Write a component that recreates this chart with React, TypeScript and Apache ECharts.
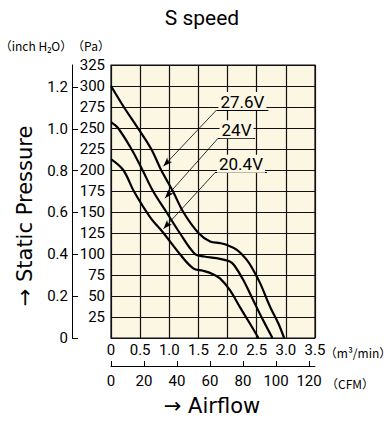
import React, { useEffect, useRef } from 'react';
import * as echarts from 'echarts';

// ---- data ----
const voltages = ['27.6V', '24V', '20.4V'];

// [airflow m³/min, static pressure Pa]
const curve276 = [
  [0, 300], [0.22, 275], [0.46, 250], [0.69, 225], [0.86, 200], [1.06, 175], [1.24, 150],
  [1.5, 125], [1.7, 115], [1.87, 113], [1.98, 111], [2.16, 105], [2.33, 93], [2.44, 81],
  [2.56, 65], [2.73, 37], [2.87, 17.5], [2.97, 0],
];
const curve24 = [
  [0, 257], [0.12, 250], [0.35, 225], [0.54, 200], [0.72, 175], [0.95, 150], [1.18, 125],
  [1.44, 100], [1.6, 97], [1.81, 95], [2.04, 91], [2.12, 86], [2.27, 69], [2.44, 45],
  [2.61, 21], [2.77, 0],
];
const curve204 = [
  [0, 213], [0.21, 200], [0.39, 175], [0.67, 144], [0.9, 125], [1.18, 100], [1.41, 83],
  [1.58, 80], [1.75, 76], [1.87, 71], [2.04, 57], [2.21, 37], [2.38, 17.5], [2.53, 0],
];
const curves = [curve276, curve24, curve204];

const paMax = 325;
const paInterval = 25;
const m3Max = 3.5;
const m3Interval = 0.5;
const inchTicks = [0, 0.2, 0.4, 0.6, 0.8, 1.0, 1.2];
const cfmTicks = [0, 20, 40, 60, 80, 100, 120];
const PA_PER_INCH = 249.089;
const M3_PER_CFM = 0.0283168;

// annotation anchors in data units: label underline start/end and arrow tip
const annoFrom = [[1.81, 271.4], [1.836, 237.7], [1.784, 196.8]];
const annoTo = [[2.7, 271.4], [2.47, 237.7], [2.676, 196.8]];
const annoTip = [[0.9, 204.5], [0.926, 166.5], [0.9, 130]];

const CREAM = '#FBF7E3';
const INK = '#000';
const GRID = '#111';
const NUM_FONT = 'Roboto, "Liberation Sans", sans-serif';
const WIDE_FONT = '"DejaVu Sans", Verdana, sans-serif';
const CJK_FONT = '"Noto Sans CJK JP", "Noto Sans", sans-serif';

export default function App() {
  const ref = useRef<HTMLDivElement>(null);

  useEffect(() => {
    if (!ref.current) return;
    const chart = echarts.init(ref.current, undefined, { renderer: 'svg' });

    const markData: any[] = [];
    voltages.forEach((v, i) => {
      markData.push([
        {
          coord: annoFrom[i],
          symbol: 'none',
          lineStyle: { width: 1, color: INK, type: 'solid' },
          label: {
            show: true,
            formatter: v,
            position: 'insideMiddleTop',
            distance: 0,
            color: INK,
            fontSize: 17,
            fontFamily: NUM_FONT,
            backgroundColor: CREAM,
            padding: [1, 2, 0, 2],
          },
        },
        { coord: annoTo[i], symbol: 'none' },
      ]);
      markData.push([
        {
          coord: annoFrom[i],
          symbol: 'none',
          lineStyle: { width: 0.8, color: INK, type: 'solid' },
          label: { show: false },
        },
        { coord: annoTip[i], symbol: 'arrow', symbolSize: [5, 9] },
      ]);
    });

    const option: any = {
      animation: false,
      grid: {
        left: 111,
        top: 65,
        width: 204,
        height: 273,
        show: true,
        backgroundColor: CREAM,
        borderColor: GRID,
        borderWidth: 1.2,
      },
      xAxis: [
        {
          type: 'value',
          min: 0,
          max: m3Max,
          interval: m3Interval,
          position: 'bottom',
          axisLine: { show: false },
          axisTick: { show: false },
          axisLabel: {
            margin: 4,
            fontSize: 15,
            fontFamily: NUM_FONT,
            color: INK,
            formatter: (x: number) => (x === 0 ? '0' : x.toFixed(1)),
          },
          splitLine: { show: true, lineStyle: { color: GRID, width: 1.2 } },
        },
        {
          type: 'value',
          min: 0,
          max: m3Max / M3_PER_CFM,
          interval: 20,
          position: 'bottom',
          offset: 28,
          axisLine: { show: true, onZero: false, lineStyle: { color: INK, width: 1 } },
          axisTick: { show: true, inside: true, length: 5, customValues: cfmTicks, lineStyle: { color: INK } },
          axisLabel: {
            margin: 7,
            fontSize: 15,
            fontFamily: NUM_FONT,
            color: INK,
            customValues: cfmTicks,
          },
          splitLine: { show: false },
        },
      ],
      yAxis: [
        {
          type: 'value',
          min: 0,
          max: paMax,
          interval: paInterval,
          position: 'left',
          axisLine: { show: false },
          axisTick: { show: false },
          axisLabel: {
            margin: 6,
            fontSize: 15,
            fontFamily: NUM_FONT,
            color: INK,
            formatter: (x: number) => (x === 0 ? '' : String(x)),
          },
          splitLine: { show: true, lineStyle: { color: GRID, width: 1.2 } },
        },
        {
          type: 'value',
          min: 0,
          max: paMax / PA_PER_INCH,
          interval: 0.2,
          position: 'left',
          offset: 39,
          axisLine: { show: true, onZero: false, lineStyle: { color: INK, width: 1 } },
          axisTick: { show: true, inside: true, length: 6, customValues: inchTicks, lineStyle: { color: INK } },
          axisLabel: {
            margin: 4,
            fontSize: 15,
            fontFamily: NUM_FONT,
            color: INK,
            customValues: inchTicks,
            formatter: (x: number) => (x === 0 ? '0' : x.toFixed(1)),
          },
          splitLine: { show: false },
        },
      ],
      series: curves.map((c, i) => ({
        name: voltages[i],
        type: 'line',
        xAxisIndex: 0,
        yAxisIndex: 0,
        data: c,
        smooth: 0.35,
        showSymbol: false,
        lineStyle: { color: INK, width: 2.2 },
        z: 3,
        markLine:
          i === 0
            ? {
                silent: true,
                animation: false,
                symbol: ['none', 'none'],
                lineStyle: { type: 'solid', color: INK },
                data: markData,
                z: 5,
              }
            : undefined,
      })),
      graphic: [
        {
          type: 'text',
          x: 202,
          y: 18,
          style: { text: 'S speed', fontSize: 21, fontFamily: NUM_FONT, fill: INK, textAlign: 'center', textVerticalAlign: 'middle' },
        },
        {
          type: 'text',
          x: 36,
          y: 45,
          style: { text: '（inch H₂O）', fontSize: 12, fontFamily: CJK_FONT, fill: INK, textAlign: 'center', textVerticalAlign: 'middle' },
        },
        {
          type: 'text',
          x: 91,
          y: 45,
          style: { text: '（Pa）', fontSize: 12, fontFamily: CJK_FONT, fill: INK, textAlign: 'center', textVerticalAlign: 'middle' },
        },
        {
          type: 'text',
          x: 358,
          y: 352,
          style: { text: '（m³/min）', fontSize: 12, fontFamily: CJK_FONT, fill: INK, textAlign: 'center', textVerticalAlign: 'middle' },
        },
        {
          type: 'text',
          x: 350,
          y: 383,
          style: { text: '（CFM）', fontSize: 12, fontFamily: CJK_FONT, fill: INK, textAlign: 'center', textVerticalAlign: 'middle' },
        },
        {
          type: 'text',
          x: 212,
          y: 406,
          style: { text: '→ Airflow', fontSize: 21, fontFamily: WIDE_FONT, fill: INK, textAlign: 'center', textVerticalAlign: 'middle' },
        },
        {
          type: 'text',
          x: 25,
          y: 216,
          rotation: Math.PI / 2,
          style: { text: '→ Static Pressure', fontSize: 21, fontFamily: WIDE_FONT, fill: INK, textAlign: 'center', textVerticalAlign: 'middle' },
        },
      ],
    };

    chart.setOption(option);
    return () => chart.dispose();
  }, []);

  return (
    <div
      ref={ref}
      style={{ position: 'fixed', left: 0, top: 0, width: 390, height: 421, background: '#fff' }}
    />
  );
}
